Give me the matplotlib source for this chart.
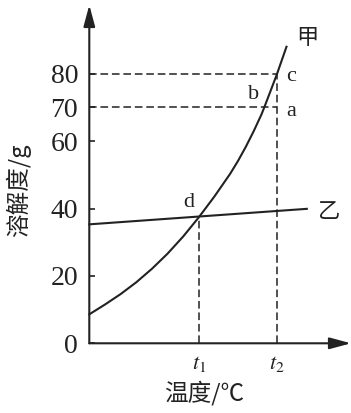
import matplotlib
matplotlib.use("Agg")
import matplotlib.pyplot as plt

## solubility curves (temperature in arbitrary units, t1=35, t2=60)
temp_jia = [0, 5, 10, 15, 20, 25, 30, 35, 40, 45, 47.5, 50, 52.5, 55, 55.9, 58, 60, 63]
sol_jia = [8.6, 11.5, 14.6, 18.1, 22.1, 26.6, 31.7, 37.4, 43.6, 50.3, 54.1, 58.3, 62.9, 67.9, 70, 75.1, 80, 88]
temp_yi = [0, 69.5]
sol_yi = [35.3, 39.9]

t1, t2 = 35, 60
ytick_vals = [0, 20, 40, 60, 70, 80]
ytick_labels = ['0', '20', '40', '60', '70', '80']
xtick_vals = [t1, t2]
xtick_labels = ['$t_1$', '$t_2$']

# marked points: (name, temperature, solubility)
point_names = ['a', 'b', 'c', 'd']
point_x = [60, 55.9, 60, 35]
point_y = [70, 70, 80, 37.5]

cjk = ['Noto Sans CJK SC', 'DejaVu Sans']
plt.rcParams['mathtext.fontset'] = 'stix'
plt.rcParams['font.family'] = ['Liberation Serif']

W, H = 351, 413
fig = plt.figure(figsize=(W / 100, H / 100), dpi=100)
x0, y0 = 89.3, 343.3          # origin in pixels
sx, sy = 3.13, 3.37           # pixels per unit
ax = fig.add_axes([x0 / W, (H - y0) / H, (W - x0) / W, (y0 - 5) / H])
ax.set_xlim(0, (W - x0) / sx)
ax.set_ylim(0, (y0 - 5) / sy)
for s in ax.spines.values():
    s.set_visible(False)

# axis lines with arrow heads
arr = dict(arrowstyle='-|>,head_length=1.3,head_width=0.35', color='#222222',
           lw=1.5, mutation_scale=10, shrinkA=0, shrinkB=0)
ax.annotate('', xy=(0, ax.get_ylim()[1]), xytext=(0, 0), arrowprops=arr, annotation_clip=False)
ax.annotate('', xy=(ax.get_xlim()[1], 0), xytext=(0, 0), arrowprops=arr, annotation_clip=False)

ax.set_yticks(ytick_vals)
ax.set_yticklabels(ytick_labels, fontsize=20, color='#222222')
ax.tick_params(axis='y', direction='in', length=4, width=1.2, pad=8, color='#222222')
ax.set_xticks(xtick_vals)
ax.set_xticklabels(xtick_labels, fontsize=16, color='#222222')
ax.tick_params(axis='x', length=0, pad=8)

# dashed guide lines
dash = dict(color='#222222', lw=1.1, linestyle=(0, (5, 2.5)))
ax.plot([0, t2], [80, 80], **dash)
ax.plot([0, t2], [70, 70], **dash)
ax.plot([t2, t2], [0, 80], **dash)
ax.plot([t1, t1], [0, 37.5], **dash)

ax.plot(temp_jia, sol_jia, color='#222222', lw=1.5, clip_on=False, solid_joinstyle='round')
ax.plot(temp_yi, sol_yi, color='#222222', lw=1.5, clip_on=False)

# labels of points, offsets in data units
offsets = {'a': (4.6, -1.1), 'b': (-3.5, 3.7), 'c': (4.6, -0.9), 'd': (-3.1, 4.3)}
for n, px, py in zip(point_names, point_x, point_y):
    dx, dy = offsets[n]
    ax.text(px + dx, py + dy, n, fontsize=16, ha='center', va='center', color='#222222')

ax.text(69.6, 90.6, '甲', family=cjk, fontsize=16, ha='center', va='center', color='#222222')
ax.text(76.6, 39.0, '乙', family=cjk, fontsize=16, ha='center', va='center', color='#222222')

fig.text(18 / W, 1 - 190 / H, '溶解度/g', family=cjk, fontsize=17, rotation=90,
         ha='center', va='center', color='#222222')
fig.text(204 / W, 1 - 393 / H, '温度/℃', family=cjk, fontsize=17,
         ha='center', va='center', color='#222222')

fig.savefig('out.png', dpi=100, facecolor='white')
